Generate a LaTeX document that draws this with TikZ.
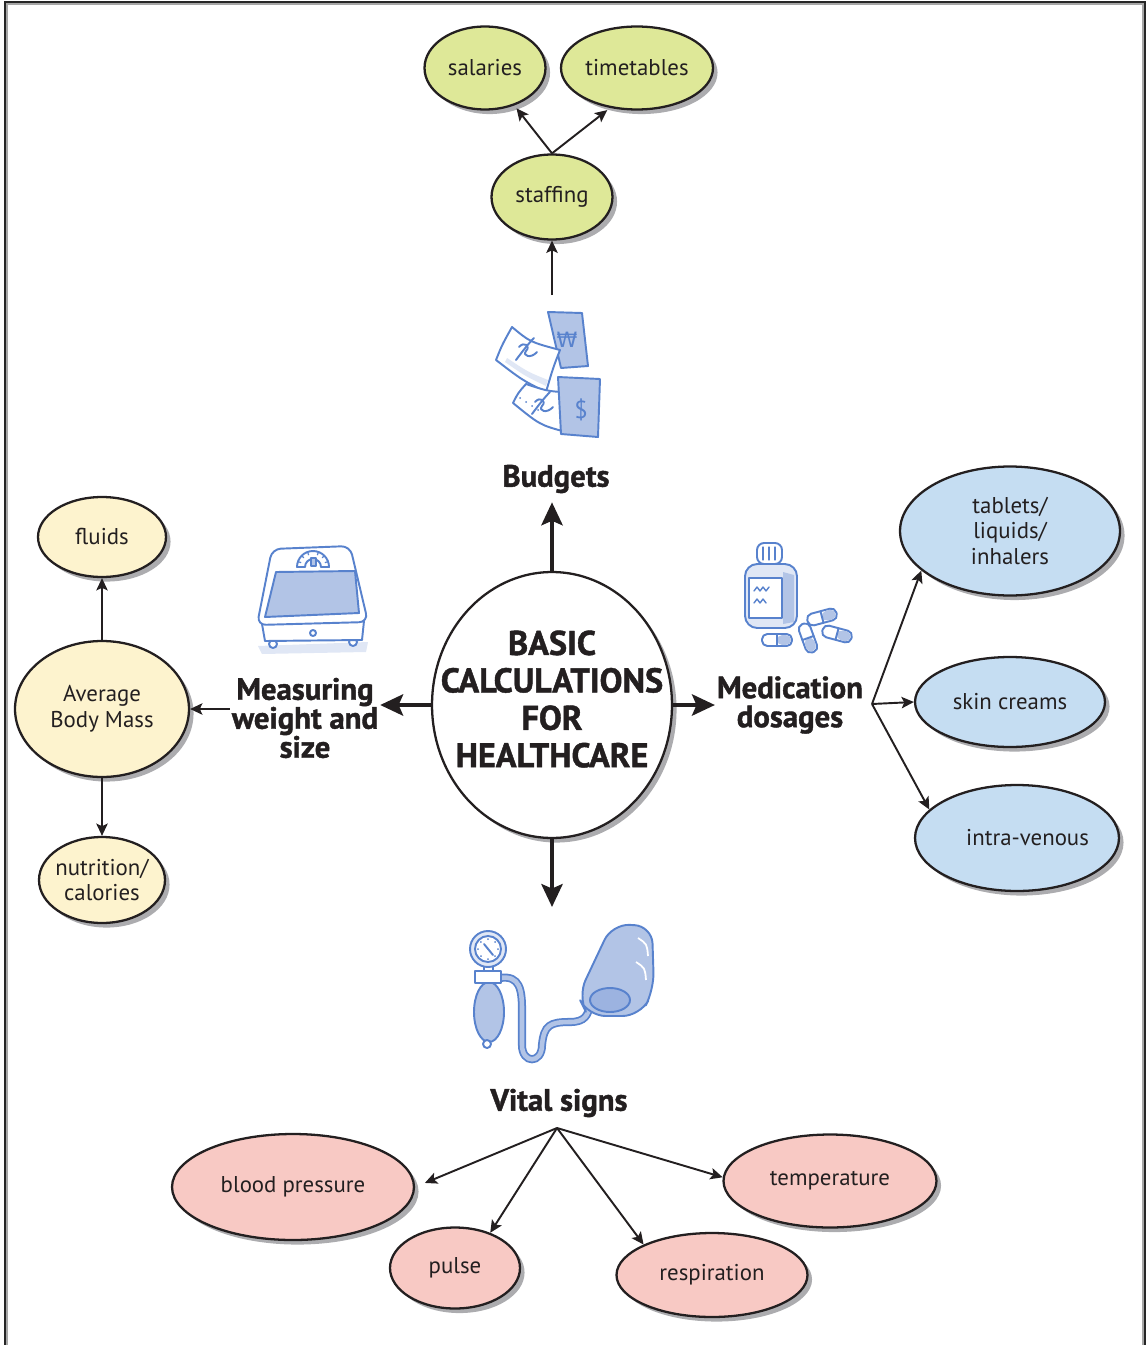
\documentclass[tikz,border=0pt]{standalone}
\usepackage{fontspec}
\setmainfont{PT Sans}[BoldFeatures={FakeBold=1.3}]
\newfontfamily\wonfont{DejaVu Sans}
\usetikzlibrary{shapes.geometric,arrows.meta,shadows,positioning}
\definecolor{inkdark}{RGB}{35,31,32}
\definecolor{limefill}{RGB}{222,232,152}
\definecolor{creamfill}{RGB}{253,243,206}
\definecolor{skyfill}{RGB}{197,221,242}
\definecolor{rosefill}{RGB}{248,201,196}
\definecolor{shadowgrey}{RGB}{172,172,175}
\definecolor{sketchblue}{RGB}{88,130,205}
\definecolor{washblue}{RGB}{178,196,230}
\definecolor{palewash}{RGB}{224,231,245}
\newcommand{\hubfont}{\fontsize{19.5}{21.3}\selectfont\bfseries}

\tikzset{
  bubble/.style={ellipse, draw=inkdark, line width=1.3pt, inner xsep=-4pt, inner ysep=0pt, align=center,
    text=inkdark, font=\fontsize{13}{14.7}\selectfont,
    drop shadow={shadow xshift=2.6pt, shadow yshift=-2.6pt, fill=shadowgrey, opacity=1}},
  topic/.style={inner sep=1pt, align=center, text=inkdark,
    font=\fontsize{17.5}{16.5}\selectfont\bfseries},
  spoke/.style={draw=inkdark, line width=2.5pt, -{Stealth[length=13pt, width=12pt, inset=2.5pt]}},
  link/.style={draw=inkdark, line width=1.1pt, -{Stealth[length=7pt, width=6.5pt, inset=1.5pt]}},
  sketch/.style={draw=sketchblue, line width=1.1pt, line join=round, line cap=round}
}

\begin{document}
\begin{tikzpicture}[x=0.02cm, y=-0.02cm]
    \useasboundingbox (0,0) rectangle (1147,1345);

    % Frame, open at the bottom
    \draw[black!35, line width=1pt] (7,1345) -- (7,4) -- (1143,4) -- (1143,1345);
    \draw[black!85, line width=1pt] (5,1345) -- (5,2) -- (1145,2) -- (1145,1345);

    % Centre
    \node[bubble, fill=white, minimum width=4.8cm, minimum height=5.32cm, inner xsep=-0.7cm, text depth=7pt, font=\hubfont] (hub) at (552,705) {BASIC\\CALCULATIONS\\FOR\\HEALTHCARE};

    % Headings round the centre
    \node[topic] (budgets) at (556,479) {Budgets};
    \node[topic] (measure) at (305,718) {Measuring\\weight and\\size};
    \node[topic] (medic) at (790,705) {Medication\\dosages};
    \node[topic] (vital) at (559,1103) {Vital signs};

    \coordinate (cash) at (552,295);
    \coordinate (cuff) at (552,907);
    \coordinate (medfork) at (872,704);
    \coordinate (vitalfork) at (557,1128);

    \draw[spoke, shorten >=4pt] (hub.north) -- (hub.north |- budgets.south);
    \draw[spoke] (hub.west) -- (hub.west -| measure.east);
    \draw[spoke] (hub.east) -- (hub.east -| medic.west);
    \draw[spoke] (hub.south) -- (cuff);

    % Budgets
    \node[bubble, fill=limefill, minimum width=2.42cm, minimum height=1.7cm] (staffing) at (552,197) {staffing};
    \node[bubble, fill=limefill, minimum width=2.42cm, minimum height=1.66cm] (salaries) at (485,68) {salaries};
    \node[bubble, fill=limefill, minimum width=3.04cm, minimum height=1.66cm] (timetables) at (637,68) {timetables};
    \draw[link] (cash) -- (staffing.south);
    \draw[link, shorten >=2pt] (staffing.north) -- (salaries.-52);
    \draw[link, shorten >=2pt] (staffing.north) -- (timetables.236);

    % Measuring weight and size
    \node[bubble, fill=creamfill, minimum width=3.48cm, minimum height=2.72cm] (mass) at (102,709) {Average\\Body Mass};
    \node[bubble, fill=creamfill, minimum width=2.56cm, minimum height=1.6cm] (fluids) at (102,537) {fluids};
    \node[bubble, fill=creamfill, minimum width=2.52cm, minimum height=1.72cm] (nutrition) at (102,880) {nutrition/\\calories};
    \draw[link] (mass.east -| measure.west) -- (mass.east);
    \draw[link] (mass.north) -- (fluids.south);
    \draw[link] (mass.south) -- (nutrition.north);

    % Medication dosages
    \node[bubble, fill=skyfill, minimum width=4.4cm, minimum height=2.58cm] (tablets) at (1010,531) {tablets/\\liquids/\\inhalers};
    \node[bubble, fill=skyfill, minimum width=3.8cm, minimum height=1.8cm] (creams) at (1010,702) {skin creams};
    \node[bubble, fill=skyfill, minimum width=4.08cm, minimum height=2.12cm] (venous) at (1017,838) {\hspace*{12pt}intra-venous};
    \draw[link] (medfork) -- (tablets.204);
    \draw[link] (medfork) -- (creams.west);
    \draw[link] (medfork) -- (venous.162);

    % Vital signs
    \node[bubble, fill=rosefill, minimum width=4.84cm, minimum height=2.12cm] (pressure) at (293,1187) {blood pressure};
    \node[bubble, fill=rosefill, minimum width=2.6cm, minimum height=1.62cm] (pulse) at (455,1268) {pulse};
    \node[bubble, fill=rosefill, minimum width=3.82cm, minimum height=1.68cm] (respiration) at (712,1275) {respiration};
    \node[bubble, fill=rosefill, minimum width=4.26cm, minimum height=1.86cm] (temperature) at (830,1181) {temperature};
    \draw[link, shorten >=6pt] (vitalfork) -- (pressure.east);
    \draw[link] (vitalfork) -- (pulse.45);
    \draw[link] (vitalfork) -- (respiration.156);
    \draw[link] (vitalfork) -- (temperature.178);

    % Banknotes
    \draw[sketch, fill=washblue] (548,312) -- (582,313) -- (588,366) -- (561,368) -- cycle;
    \node[text=sketchblue, font=\wonfont\fontsize{12}{12}\selectfont] (wonsign) at (567,340) {₩};
    \draw[sketch, fill=white] (496,360) .. controls (502,345) .. (512,327) .. controls (530,342) .. (560,350) .. controls (553,368) .. (546,392) .. controls (522,380) .. (496,360) -- cycle;
    \fill[palewash] (505,362) .. controls (525,376) .. (546,386) -- (548,380) .. controls (528,372) .. (507,358) -- cycle;
    \draw[sketch] (516,360) .. controls (522,352) and (528,344) .. (534,338);
    \draw[sketch] (519,347) .. controls (524,341) and (531,346) .. (526,351) .. controls (522,356) and (531,359) .. (537,352);
    \draw[sketch, fill=white] (513,403) .. controls (518,393) .. (526,384) .. controls (550,392) .. (578,392) -- (566,432) .. controls (540,425) .. (513,403) -- cycle;
    \draw[sketch] (532,414) .. controls (538,406) and (544,398) .. (550,392);
    \draw[sketch] (535,402) .. controls (540,396) and (547,401) .. (542,406) .. controls (538,411) and (547,414) .. (553,407);
    \foreach \t in {0,1,2,3} \fill[sketchblue] (520+6*\t,398+4*\t) circle[radius=1];
    \draw[sketch, fill=washblue] (558,377) -- (600,379) -- (598,437) -- (561,434) -- cycle;
    \node[text=sketchblue, font=\fontsize{14}{14}\selectfont] (dollarsign) at (581,410) {\$};

    % Weighing scale
    \fill[palewash] (258,646) -- (368,642) -- (366,652) -- (262,654) -- cycle;
    \draw[sketch, fill=white] (273,644) circle[radius=4];
    \draw[sketch, fill=white] (353,642) circle[radius=4];
    \draw[sketch, fill=white] (262,624) -- (364,621) -- (362,640) -- (265,641) -- cycle;
    \draw[sketch] (313,633) circle[radius=3];
    \draw[sketch, fill=white, rounded corners=5pt] (272,549) -- (350,546) -- (368,622) -- (257,625) -- cycle;
    \draw[sketch, fill=washblue] (276,572) -- (355,571) -- (359,613) -- (265,617) -- cycle;
    \draw[sketch, fill=white] (297,567) arc[start angle=180, end angle=360, radius=16] -- (321,567) arc[start angle=360, end angle=180, radius=8] -- cycle;
    \draw[sketch, fill=washblue] (311,558) rectangle (316,566);
    \foreach \a in {200,225,250,290,315,340} \draw[sketch, line width=0.7pt] ([shift={(\a:13)}]313,567) -- ([shift={(\a:16)}]313,567);

    % Pill bottle and capsules
    \draw[sketch, fill=palewash, rounded corners=7pt] (745,564) rectangle (797,628);
    \fill[washblue] (783,572) -- (794,575) -- (794,622) -- (783,624) -- cycle;
    \draw[sketch, fill=white] (749,578) rectangle (782,618);
    \draw[sketch, line width=0.8pt] (754,591) -- (757,587) -- (760,591) -- (763,587) -- (766,591) -- (769,587);
    \draw[sketch, line width=0.8pt] (754,603) -- (757,599) -- (760,603) -- (763,599) -- (766,603);
    \draw[sketch, fill=white, rounded corners=4pt] (757,543) rectangle (782,564);
    \foreach \x in {763,769,775} \draw[sketch, line width=0.7pt] (\x,547) -- (\x,560);
    \foreach \cx/\cy/\ca in {822/617/15, 777/640/0, 808/638/-70, 837/634/-15} {
        \begin{scope}[shift={(\cx,\cy)}, rotate=\ca]
            \draw[sketch, fill=white, rounded corners=3pt] (-15,-6) rectangle (15,6);
            \fill[washblue, rounded corners=3pt] (0,-5) rectangle (14,5);
            \draw[sketch] (0,-6) -- (0,6);
        \end{scope}
    }

    % Blood pressure cuff
    \draw[sketchblue, line width=1pt, double=washblue, double distance=2.6pt]
        (500,978) .. controls (520,975) and (522,990) .. (522,1010) -- (522,1045)
        .. controls (522,1064) and (542,1064) .. (542,1045)
        .. controls (544,1025) and (550,1022) .. (570,1022)
        .. controls (585,1022) and (588,1015) .. (590,1005);
    \draw[sketch, fill=washblue, rounded corners=10pt] (612,924) -- (652,926) -- (654,990) -- (640,1016) -- (588,1016) -- (578,996) -- cycle;
    \draw[sketch, fill=washblue!75!sketchblue] (610,1000) ellipse[x radius=20, y radius=12];
    \draw[white, line width=1pt] (638,938) .. controls (647,944) .. (648,956);
    \draw[white, line width=1pt] (636,962) .. controls (645,968) .. (646,980);
    \draw[sketch, fill=washblue] (489,1012) ellipse[x radius=15, y radius=30];
    \draw[sketch, fill=white] (487,1044) circle[radius=4];
    \draw[sketch, fill=white] (475,971) rectangle (501,983);
    \draw[sketch, fill=white] (484,965) rectangle (493,971);
    \draw[sketch, fill=palewash] (488,949) circle[radius=18];
    \draw[sketch, fill=white] (488,949) circle[radius=13];
    \foreach \a in {0,45,...,315} \fill[sketchblue] ([shift={(\a:10)}]488,949) circle[radius=1];
    \draw[sketch] (484,944) -- (493,955);
\end{tikzpicture}
\end{document}
